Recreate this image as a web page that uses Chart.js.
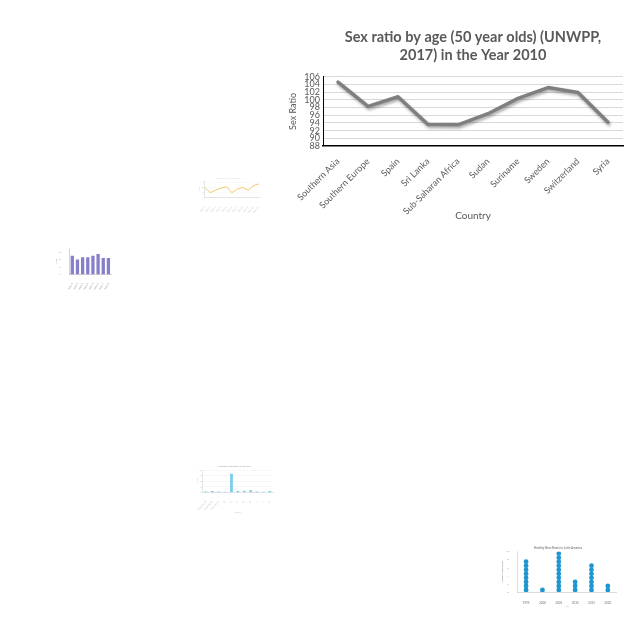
<!DOCTYPE html>
<html>
<head>
<meta charset="utf-8">
<script src="https://cdn.jsdelivr.net/npm/chart.js@4"></script>
<style>
  html, body { margin: 0; padding: 0; background: #ffffff; }
  body { width: 640px; height: 640px; position: relative; overflow: hidden; }
  canvas { position: absolute; }
</style>
</head>
<body>
<canvas id="main" width="355" height="210" style="left:280px;top:20px"></canvas>
<canvas id="thumbLine" width="70" height="38" style="left:195px;top:176px"></canvas>
<canvas id="thumbBars" width="58" height="44" style="left:55px;top:246px"></canvas>
<canvas id="thumbBlue" width="80" height="52" style="left:195px;top:463px"></canvas>
<canvas id="thumbDots" width="120" height="66" style="left:500px;top:542px"></canvas>
<script>
// ---- Main chart data ----
const countries = ["Southern Asia", "Southern Europe", "Spain", "Sri Lanka", "Sub-Saharan Africa",
                   "Sudan", "Suriname", "Sweden", "Switzerland", "Syria"];
const sexRatio = [104.6, 98.3, 100.8, 93.6, 93.5, 96.4, 100.4, 103.2, 101.9, 94.2];
const mainTitle = ["Sex ratio by age (50 year olds) (UNWPP,", "2017) in the Year 2010"];
const yTitle = "Sex Ratio";
const xTitle = "Country";

// ---- Thumbnail data ----
const lineThumbLabels = ["Item 1","Item 2","Item 3","Item 4","Item 5","Item 6","Item 7","Item 8","Item 9","Item 10","Item 11"];
const lineThumbValues = [30, 15, 22, 28, 32, 15, 25, 30, 22, 35, 40];

const barThumbLabels = ["Item 1","Item 2","Item 3","Item 4","Item 5","Item 6","Item 7","Item 8"];
const barThumbValues = [24.8, 19.9, 22.9, 22.9, 24.8, 27.4, 21.8, 21.8];

const blueThumbLabels = ["Country A","Country B","Country C","D","E","F","G","H","I","J","K"];
const blueThumbValues = [3, 4, 3, 2, 50, 4, 5, 6, 3, 2, 4];

const dotYears = ["1995", "2000", "2005", "2010", "2015", "2020"];
const dotCounts = [8, 1, 10, 3, 7, 2];

Chart.defaults.animation = false;
Chart.defaults.responsive = false;
Chart.defaults.font.family = "Lato, 'Noto Sans', sans-serif";

const shadowPlugin = {
  id: 'lineShadow',
  beforeDatasetDraw(chart) {
    const ctx = chart.ctx;
    ctx.save();
    ctx.shadowColor = 'rgba(0,0,0,0.35)';
    ctx.shadowBlur = 3;
    ctx.shadowOffsetX = 1;
    ctx.shadowOffsetY = 2;
  },
  afterDatasetDraw(chart) { chart.ctx.restore(); }
};

new Chart(document.getElementById('main'), {
  type: 'line',
  data: {
    labels: countries,
    datasets: [{
      data: sexRatio,
      borderColor: '#7f7f7f',
      borderWidth: 3.5,
      pointRadius: 0,
      tension: 0,
      fill: false,
      borderJoinStyle: 'round',
      borderCapStyle: 'round'
    }]
  },
  plugins: [shadowPlugin],
  options: {
    layout: { padding: { left: 0, right: 12, top: 0, bottom: 0 } },
    plugins: {
      legend: { display: false },
      tooltip: { enabled: false },
      title: {
        display: true,
        fullSize: false,
        text: mainTitle,
        color: '#595959',
        font: { size: 14.5, weight: 'bold', lineHeight: 1.2 },
        padding: { top: 9, bottom: 13 }
      }
    },
    scales: {
      x: {
        offset: true,
        grid: { display: false },
        border: { color: '#000000', width: 1.5 },
        ticks: {
          color: '#595959', font: { size: 9 },
          maxRotation: 45, minRotation: 45, autoSkip: false, padding: 2
        },
        title: { display: true, text: xTitle, color: '#595959', font: { size: 10 }, padding: 8 },
        afterFit(s) { s.height = 84; }
      },
      y: {
        min: 88, max: 106,
        grid: { color: '#d9d9d9', drawTicks: false },
        border: { color: '#000000', width: 1 },
        ticks: { stepSize: 2, autoSkip: false, color: '#595959', font: { size: 9 }, padding: 3 },
        title: { display: true, text: yTitle, color: '#595959', font: { size: 9 }, padding: 8 },
        afterFit(s) { s.width = 43; }
      }
    }
  }
});

// Thumbnail: yellow line chart
new Chart(document.getElementById('thumbLine'), {
  type: 'line',
  data: { labels: lineThumbLabels, datasets: [{
    data: lineThumbValues, borderColor: 'rgba(240,195,80,0.85)', borderWidth: 1,
    pointRadius: 0, fill: false, tension: 0
  }]},
  options: {
    layout: { padding: { left: 3, right: 6, top: 0, bottom: 0 } },
    plugins: { legend: { display: false }, tooltip: { enabled: false },
      title: { display: true, text: 'Chart title of the line chart', color: '#dddddd', font: { size: 2 }, padding: 1 } },
    scales: {
      x: { grid: { display: false }, border: { color: '#cccccc', width: 0.5 },
           ticks: { color: '#c8c8c8', font: { size: 2.5 }, maxRotation: 45, minRotation: 45, autoSkip: false, padding: 0 } },
      y: { min: 0, max: 50, grid: { color: '#f4f4f4', drawTicks: false, lineWidth: 0.5 }, border: { color: '#cccccc', width: 0.5 },
           ticks: { color: '#d0d0d0', font: { size: 2 }, stepSize: 5, padding: 1 },
           title: { display: true, text: 'Value', color: '#cccccc', font: { size: 2 }, padding: 0 } }
    }
  }
});

// Thumbnail: purple bars
new Chart(document.getElementById('thumbBars'), {
  type: 'bar',
  data: { labels: barThumbLabels, datasets: [{
    data: barThumbValues, backgroundColor: '#8580c8', categoryPercentage: 0.85, barPercentage: 0.75
  }]},
  options: {
    layout: { padding: { left: 0, right: 2, top: 1, bottom: 0 } },
    plugins: { legend: { display: false }, tooltip: { enabled: false } },
    scales: {
      x: { grid: { display: false }, border: { color: '#aaaaaa', width: 0.5 },
           ticks: { color: '#999999', font: { size: 2.5 }, maxRotation: 60, minRotation: 60, autoSkip: false, padding: 0 } },
      y: { min: 0, max: 35, grid: { display: false }, border: { color: '#aaaaaa', width: 0.5 },
           ticks: { color: '#aaaaaa', font: { size: 2 }, stepSize: 5, padding: 1 },
           title: { display: true, text: 'Value', color: '#999999', font: { size: 2 }, padding: 0 } }
    }
  }
});

// Thumbnail: light blue bars
new Chart(document.getElementById('thumbBlue'), {
  type: 'bar',
  data: { labels: blueThumbLabels, datasets: [{
    data: blueThumbValues, backgroundColor: 'rgba(80,190,230,0.75)', categoryPercentage: 0.8, barPercentage: 0.55
  }]},
  options: {
    layout: { padding: { left: 1, right: 2, top: 0, bottom: 0 } },
    plugins: { legend: { display: false }, tooltip: { enabled: false },
      title: { display: true, text: 'Number of people in the year', color: '#aaaaaa', font: { size: 2.5 }, padding: 2 } },
    scales: {
      x: { grid: { display: false }, border: { color: '#cccccc', width: 0.5 },
           ticks: { color: '#c0c0c0', font: { size: 2.5 }, maxRotation: 45, minRotation: 45, autoSkip: false, padding: 0 },
           title: { display: true, text: 'Country', color: '#cccccc', font: { size: 2 }, padding: 1 } },
      y: { min: 0, max: 60, grid: { color: '#f0f0f0', drawTicks: false, lineWidth: 0.5 }, border: { color: '#cccccc', width: 0.5 },
           ticks: { color: '#c0c0c0', font: { size: 2 }, stepSize: 5, padding: 1 },
           title: { display: true, text: 'Number', color: '#cccccc', font: { size: 2 }, padding: 0 } }
    }
  }
});

// Thumbnail: dot plot
const dotPoints = [];
dotCounts.forEach((c, i) => { for (let k = 1; k <= c; k++) dotPoints.push({ x: dotYears[i], y: k - 0.5 }); });
new Chart(document.getElementById('thumbDots'), {
  type: 'scatter',
  data: { labels: dotYears, datasets: [{
    data: dotPoints, backgroundColor: '#1e96d0', borderColor: '#1e96d0', pointRadius: 2.4, borderWidth: 0
  }]},
  options: {
    layout: { padding: { left: 0, right: 4, top: 0, bottom: 0 } },
    plugins: { legend: { display: false }, tooltip: { enabled: false },
      title: { display: true, text: 'Healthy New Roots in Latin America', color: '#888888', font: { size: 3 }, padding: { top: 4, bottom: 2 } } },
    scales: {
      x: { type: 'category', labels: dotYears, offset: true, grid: { display: false },
           border: { color: '#bbbbbb', width: 0.5 },
           ticks: { color: '#777777', font: { size: 3 }, padding: 1 },
           title: { display: true, text: 'Year', color: '#bbbbbb', font: { size: 2 }, padding: 0 } },
      y: { min: 0, max: 10, grid: { display: false }, border: { color: '#bbbbbb', width: 0.5 },
           ticks: { color: '#999999', font: { size: 2.5 }, stepSize: 1, padding: 1 },
           title: { display: true, text: 'Healthy New Roots', color: '#777777', font: { size: 2.5 }, padding: 1 } }
    }
  }
});
</script>
</body>
</html>
